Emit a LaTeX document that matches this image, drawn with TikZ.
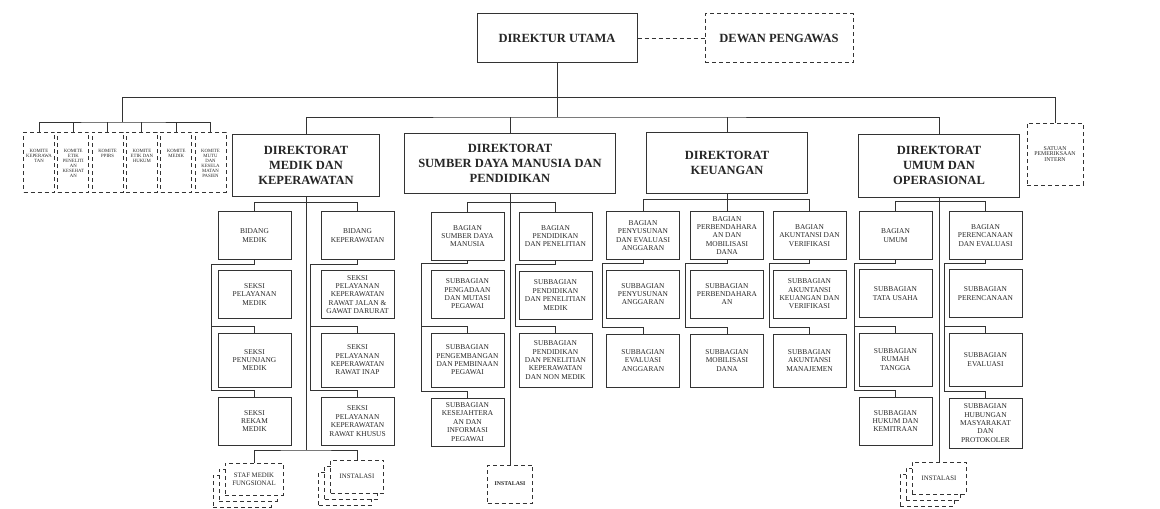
\documentclass[tikz,border=0pt]{standalone}
\usepackage{fontspec}
\setmainfont{Liberation Serif}
\usetikzlibrary{calc,shadows}

\begin{document}
\begin{tikzpicture}[x=1pt,y=-1pt,
  box/.style={draw=black!80,line width=1pt,fill=white,align=center,inner sep=1pt,text=black!85},
  dir/.style={box,font=\fontsize{12.5}{15}\selectfont\bfseries},
  unit/.style={box,minimum width=73,minimum height=48,font=\fontsize{7.4}{8.4}\selectfont},
  dbox/.style={box,dash pattern=on 4pt off 3pt},
  komite/.style={dbox,inner sep=0.5pt,font=\fontsize{4.8}{4.9}\selectfont},
  stack/.style={double copy shadow={shadow xshift=-6pt,shadow yshift=-6pt,draw=black!80,line width=1pt,
    dash pattern=on 4pt off 3pt,fill=white}},
  link/.style={draw=black!80,line width=1pt}]
  \path[use as bounding box] (0,0) rectangle (1160,509);

  % Top: director and supervisory board.
  \node[dir,minimum width=160,minimum height=49] (dirut) at (557,38) {DIREKTUR UTAMA};
  \node[dir,dbox,minimum width=148,minimum height=49] (dewas) at (779,38) {DEWAN PENGAWAS};
  \draw[link,dash pattern=on 4pt off 3pt] (dirut) -- (dewas);

  % Committees and internal audit.
  \foreach \t [count=\i] in {{KOMITE\\KEPERAWA\\TAN},{KOMITE\\ETIK\\PENELITI\\AN\\KESEHAT\\AN},
      {KOMITE\\PPIRS},{KOMITE\\ETIK DAN\\HUKUM},{KOMITE\\MEDIK},{KOMITE\\MUTU\\DAN\\KESELA\\MATAN\\PASIEN}}
    \node[komite] (k\i) at ({39+34.3*(\i-1)},162)
      {\parbox[c][59pt][t]{30pt}{\centering\vspace*{17pt}\t}};
  \node[dbox,minimum width=56,minimum height=62,font=\fontsize{5.8}{5.6}\selectfont] (spi) at (1055,154)
    {SATUAN\\PEMERIKSAAN\\INTERN};

  % Directorates.
  \node[dir,minimum width=147,minimum height=62] (dmk) at (306,165) {DIREKTORAT\\MEDIK DAN\\KEPERAWATAN};
  \node[dir,minimum width=211,minimum height=60] (dsdm) at (510,163) {DIREKTORAT\\SUMBER DAYA MANUSIA DAN\\PENDIDIKAN};
  \node[dir,minimum width=161,minimum height=61] (dkeu) at (727,162.5) {DIREKTORAT\\KEUANGAN};
  \node[dir,minimum width=161,minimum height=63] (dumo) at (939,165.5) {DIREKTORAT\\UMUM DAN\\OPERASIONAL};

  \coordinate (b1) at (557,97);
  \coordinate (b2) at (557,117);
  \coordinate (kom) at (122,122);
  \draw[link] (dirut.south) -- (b2);
  \draw[link] (dmk.north) |- (b2) -| (dumo.north);
  \draw[link] (dsdm.north) -- (dsdm.north |- b2);
  \draw[link] (dkeu.north) -- (dkeu.north |- b2);
  \draw[link] (kom) -- (kom |- b1) -| (spi.north);
  \draw[link] (k1.north) |- (kom) -| (k6.north);
  \foreach \i in {2,...,5}
    \draw[link] (k\i.north) -- (k\i.north |- kom);

  % Medik dan keperawatan.
  \node[unit] (bm) at (254.5,235.5) {BIDANG\\MEDIK};
  \node[unit] (bk) at (357.5,235.5) {BIDANG\\KEPERAWATAN};
  \node[unit] (m1) at (254.5,294.5) {SEKSI\\PELAYANAN\\MEDIK};
  \node[unit,minimum height=54] (m2) at (254.5,360) {SEKSI\\PENUNJANG\\MEDIK};
  \node[unit] (m3) at (254.5,421) {SEKSI\\REKAM\\MEDIK};
  \node[unit] (p1) at (357.5,294.5) {SEKSI\\PELAYANAN\\KEPERAWATAN\\RAWAT JALAN \&\\GAWAT DARURAT};
  \node[unit,minimum height=54] (p2) at (357.5,360) {SEKSI\\PELAYANAN\\KEPERAWATAN\\RAWAT INAP};
  \node[unit] (p3) at (357.5,421) {SEKSI\\PELAYANAN\\KEPERAWATAN\\RAWAT KHUSUS};
  \node[dbox,stack,minimum width=58,minimum height=32,font=\fontsize{6.8}{7.8}\selectfont] (smf) at (254,479)
    {STAF MEDIK\\FUNGSIONAL};
  \node[dbox,stack,minimum width=53,minimum height=33,font=\fontsize{6.8}{7.8}\selectfont] (inm) at (357,476.5)
    {INSTALASI};
  \coordinate (mf) at (306,450);
  \draw[link] (bm.north) -- ++(0,-9) -| (bk.north);
  \draw[link] (dmk.south) -- (mf);
  \draw[link] (smf.north) |- (mf) -| (inm.north);

  % SDM dan pendidikan.
  \node[unit] (bs) at (467.5,236) {BAGIAN\\SUMBER DAYA\\MANUSIA};
  \node[unit] (bp) at (555.5,236) {BAGIAN\\PENDIDIKAN\\DAN PENELITIAN};
  \node[unit] (s1) at (467.5,294) {SUBBAGIAN\\PENGADAAN\\DAN MUTASI\\PEGAWAI};
  \node[unit,minimum height=54] (s2) at (467.5,360) {SUBBAGIAN\\PENGEMBANGAN\\DAN PEMBINAAN\\PEGAWAI};
  \node[unit] (s3) at (467.5,422) {SUBBAGIAN\\KESEJAHTERA\\AN DAN\\INFORMASI\\PEGAWAI};
  \node[unit] (q1) at (555.5,295) {SUBBAGIAN\\PENDIDIKAN\\DAN PENELITIAN\\MEDIK};
  \node[unit,minimum height=54] (q2) at (555.5,360) {SUBBAGIAN\\PENDIDIKAN\\DAN PENELITIAN\\KEPERAWATAN\\DAN NON MEDIK};
  \node[dbox,minimum width=45,minimum height=38,font=\fontsize{5.8}{6}\selectfont\bfseries] (ins) at (510,484) {INSTALASI};
  \draw[link] (bs.north) -- ++(0,-9) -| (bp.north);
  \draw[link] (dsdm.south) -- (ins.north);

  % Keuangan.
  \node[unit] (ka) at (643,235.5) {BAGIAN\\PENYUSUNAN\\DAN EVALUASI\\ANGGARAN};
  \node[unit] (kb) at (727,235.5) {BAGIAN\\PERBENDAHARA\\AN DAN\\MOBILISASI\\DANA};
  \node[unit] (kc) at (809.5,235.5) {BAGIAN\\AKUNTANSI DAN\\VERIFIKASI};
  \node[unit] (ka1) at (643,294) {SUBBAGIAN\\PENYUSUNAN\\ANGGARAN};
  \node[unit,minimum height=53] (ka2) at (643,360.5) {SUBBAGIAN\\EVALUASI\\ANGGARAN};
  \node[unit] (kb1) at (727,294) {SUBBAGIAN\\PERBENDAHARA\\AN};
  \node[unit,minimum height=53] (kb2) at (727,360.5) {SUBBAGIAN\\MOBILISASI\\DANA};
  \node[unit] (kc1) at (809.5,294) {SUBBAGIAN\\AKUNTANSI\\KEUANGAN DAN\\VERIFIKASI};
  \node[unit,minimum height=53] (kc2) at (809.5,360.5) {SUBBAGIAN\\AKUNTANSI\\MANAJEMEN};
  \draw[link] (ka.north) -- ++(0,-12) -| (kc.north);
  \draw[link] (dkeu.south) -- (kb.north);

  % Umum dan operasional.
  \node[unit] (ua) at (895.5,235.5) {BAGIAN\\UMUM};
  \node[unit] (ub) at (985.5,235.5) {BAGIAN\\PERENCANAAN\\DAN EVALUASI};
  \node[unit] (ua1) at (895.5,293.5) {SUBBAGIAN\\TATA USAHA};
  \node[unit,minimum height=53] (ua2) at (895.5,359.5) {SUBBAGIAN\\RUMAH\\TANGGA};
  \node[unit] (ua3) at (895.5,421) {SUBBAGIAN\\HUKUM DAN\\KEMITRAAN};
  \node[unit] (ub1) at (985.5,293.5) {SUBBAGIAN\\PERENCANAAN};
  \node[unit,minimum height=53] (ub2) at (985.5,359.5) {SUBBAGIAN\\EVALUASI};
  \node[unit,minimum height=50] (ub3) at (985.5,423) {SUBBAGIAN\\HUBUNGAN\\MASYARAKAT\\DAN\\PROTOKOLER};
  \node[dbox,stack,minimum width=54,minimum height=32,font=\fontsize{6.8}{7.8}\selectfont] (inu) at (939,478)
    {INSTALASI};
  \draw[link] (ua.north) -- ++(0,-10) -| (ub.north);
  \draw[link] (dumo.south) -- (inu.north);

  % Side rails: parent/offset/first/last/other children.
  \foreach \p/\d/\f/\l/\kids in {bm/6/m1/m3/{m2,m3},bk/10/p1/p3/{p2,p3},bs/9/s1/s3/{s2,s3},bp/3/q1/q2/{q2},
      ka/4/ka1/ka2/{ka2},kb/5/kb1/kb2/{kb2},kc/3/kc1/kc2/{kc2},ua/4/ua1/ua3/{ua2,ua3},ub/4/ub1/ub3/{ub2,ub3}} {
    \coordinate (r) at ([xshift=-\d pt]\p.west);
    \draw[link] (\p.south) -- ($(\f.north)+(0,-6)$) -| ($(r |- \l.north)+(0,-6)$);
    \foreach \c in \kids
      \draw[link] ($(r |- \c.north)+(0,-6)$) -| (\c.north);
  }
\end{tikzpicture}
\end{document}
